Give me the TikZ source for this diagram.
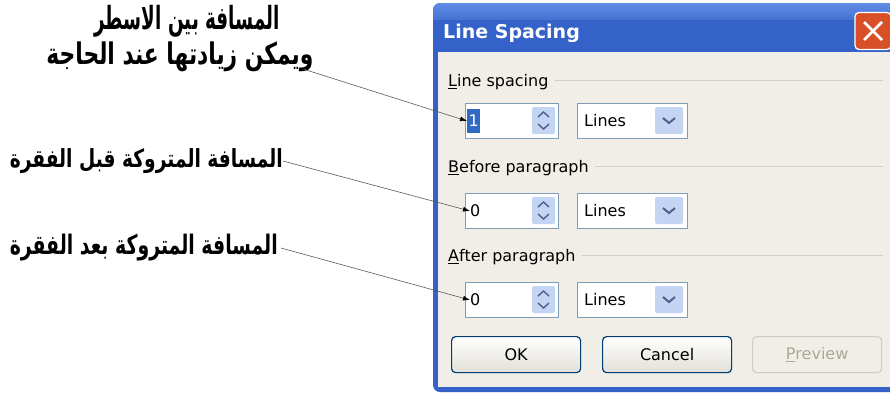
\documentclass[tikz,border=0pt]{standalone}
\usepackage{graphicx}
\usepackage{fontspec}
\setmainfont{DejaVu Sans}
\newfontfamily\arabicfont[Script=Arabic]{DejaVu Sans}
\TeXXeTstate=1
\usetikzlibrary{arrows.meta}
\definecolor{titleblue}{RGB}{52,98,200}
\definecolor{titletop}{RGB}{96,140,228}
\definecolor{bodycol}{RGB}{240,238,231}
\definecolor{fieldborder}{RGB}{127,157,185}
\definecolor{spinblue}{RGB}{196,212,243}
\definecolor{chevcol}{RGB}{77,97,140}
\definecolor{selblue}{RGB}{49,106,197}
\definecolor{btnborder}{RGB}{0,60,116}
\definecolor{btnbottom}{RGB}{226,224,216}
\definecolor{disgray}{RGB}{172,168,153}
\definecolor{disborder}{RGB}{208,206,196}
\definecolor{sepgray}{RGB}{208,208,191}
\definecolor{closered}{RGB}{216,80,40}
\definecolor{linegray}{RGB}{90,90,90}
\newcommand\artext[3]{\resizebox*{#1pt}{#2pt}{\arabicfont\bfseries #3}}
\begin{document}
\begin{tikzpicture}[x=1pt,y=-1pt,
  grp/.style={font=\fontsize{16}{18}\selectfont, text=black, anchor=west, inner sep=0pt},
  field/.style={draw=fieldborder, fill=white, line width=0.9pt, inner sep=0pt, anchor=north west},
  btnbox/.style={draw=btnborder, line width=1.2pt, rounded corners=4pt, top color=white, bottom color=btnbottom,
     minimum width=129pt, minimum height=36pt, anchor=north west, font=\fontsize{16}{18}\selectfont},
  arlab/.style={inner sep=0pt, text=black},
  pointer/.style={draw=linegray, line width=0.6pt, -{Latex[length=7pt,width=5pt,black]}},
  chev/.style={draw=chevcol, line width=1.4pt},
]
\clip (0,0) rectangle (890,394);
\fill[white] (0,0) rectangle (890,394);

% window frame
\fill[titleblue, rounded corners=7pt] (433,3) rectangle (900,392);
\shade[top color=titletop, bottom color=titleblue, rounded corners=7pt] (433,3) rectangle (900,30);
\fill[titleblue] (433,20) rectangle (900,52);
\fill[bodycol] (438,52) rectangle (890,387);
\node[font=\bfseries\fontsize{19}{22}\selectfont, text=white, anchor=west, inner sep=0pt] (title) at (443,33) {Line Spacing};

% close button
\node[draw=white, line width=1.3pt, rounded corners=4pt, fill=closered, minimum width=36pt, minimum height=37pt, inner sep=0pt] (close) at (873,31) {};
\draw[white, line width=2.6pt] ([shift={(-9,-9)}]close.center) -- ([shift={(9,9)}]close.center);
\draw[white, line width=2.6pt] ([shift={(-9,9)}]close.center) -- ([shift={(9,-9)}]close.center);

% group headers
\node[grp] (g1) at (448,82) {\underline{L}ine spacing};
\draw[sepgray, line width=0.8pt] (g1.east) ++(6,-2) -- (883,80);
\node[grp] (g2) at (448,168) {\underline{B}efore paragraph};
\draw[sepgray, line width=0.8pt] (g2.east) ++(6,-2) -- (883,166);
\node[grp] (g3) at (448,257) {\underline{A}fter paragraph};
\draw[sepgray, line width=0.8pt] (g3.east) ++(6,-2) -- (883,255);

% spin boxes and combos
\foreach \y/\n in {103/1,193/2,282/3}{
  \node[field, minimum width=93pt, minimum height=35pt] (s\n) at (465,\y) {};
  \fill[spinblue, rounded corners=2pt] (532,\y+4) rectangle (555,\y+31);
  \draw[chev] (538,\y+14) -- (543.5,\y+9) -- (549,\y+14);
  \draw[chev] (538,\y+21) -- (543.5,\y+26) -- (549,\y+21);
  \node[field, minimum width=110pt, minimum height=35pt] (c\n) at (577,\y) {};
  \node[grp] (l\n) at (584,\y+18) {Lines};
  \fill[spinblue, rounded corners=2pt] (655,\y+4) rectangle (683,\y+31);
  \draw[chev, line width=2pt] (663,\y+15) -- (669,\y+20) -- (675,\y+15);
}
\node[grp, fill=selblue, text=white, inner xsep=1.5pt, inner ysep=6pt] (v1) at (467,121) {1};
\node[grp] (v2) at (470,211) {0};
\node[grp] (v3) at (470,300) {0};

% buttons
\node[btnbox] (ok) at (451,336) {OK};
\node[btnbox] (cancel) at (602,336) {Cancel};
\node[btnbox, draw=disborder, top color=bodycol, bottom color=bodycol, text=disgray] (preview) at (752,336) {\underline{P}review};

% Arabic labels
\node[arlab] (a1) at (187,21) {\artext{185}{32}{\beginR المسافة بين الاسطر\endR}};
\node[arlab] (a1b) at (180,57) {\artext{267}{30}{\beginR ويمكن زيادتها عند الحاجة\endR}};
\node[arlab, anchor=east] (a2) at (283,161) {\artext{273}{25}{\beginR المسافة المتروكة قبل الفقرة\endR}};
\node[arlab, anchor=east] (a3) at (278,248) {\artext{268}{27}{\beginR المسافة المتروكة بعد الفقرة\endR}};

% pointers
\draw[pointer] ([xshift=-10pt,yshift=3pt]a1b.south east) -- (v1.west);
\draw[pointer] (a2.east) -- (v2.west);
\draw[pointer] ([xshift=3pt]a3.east) -- (v3.west);
\end{tikzpicture}
\end{document}
